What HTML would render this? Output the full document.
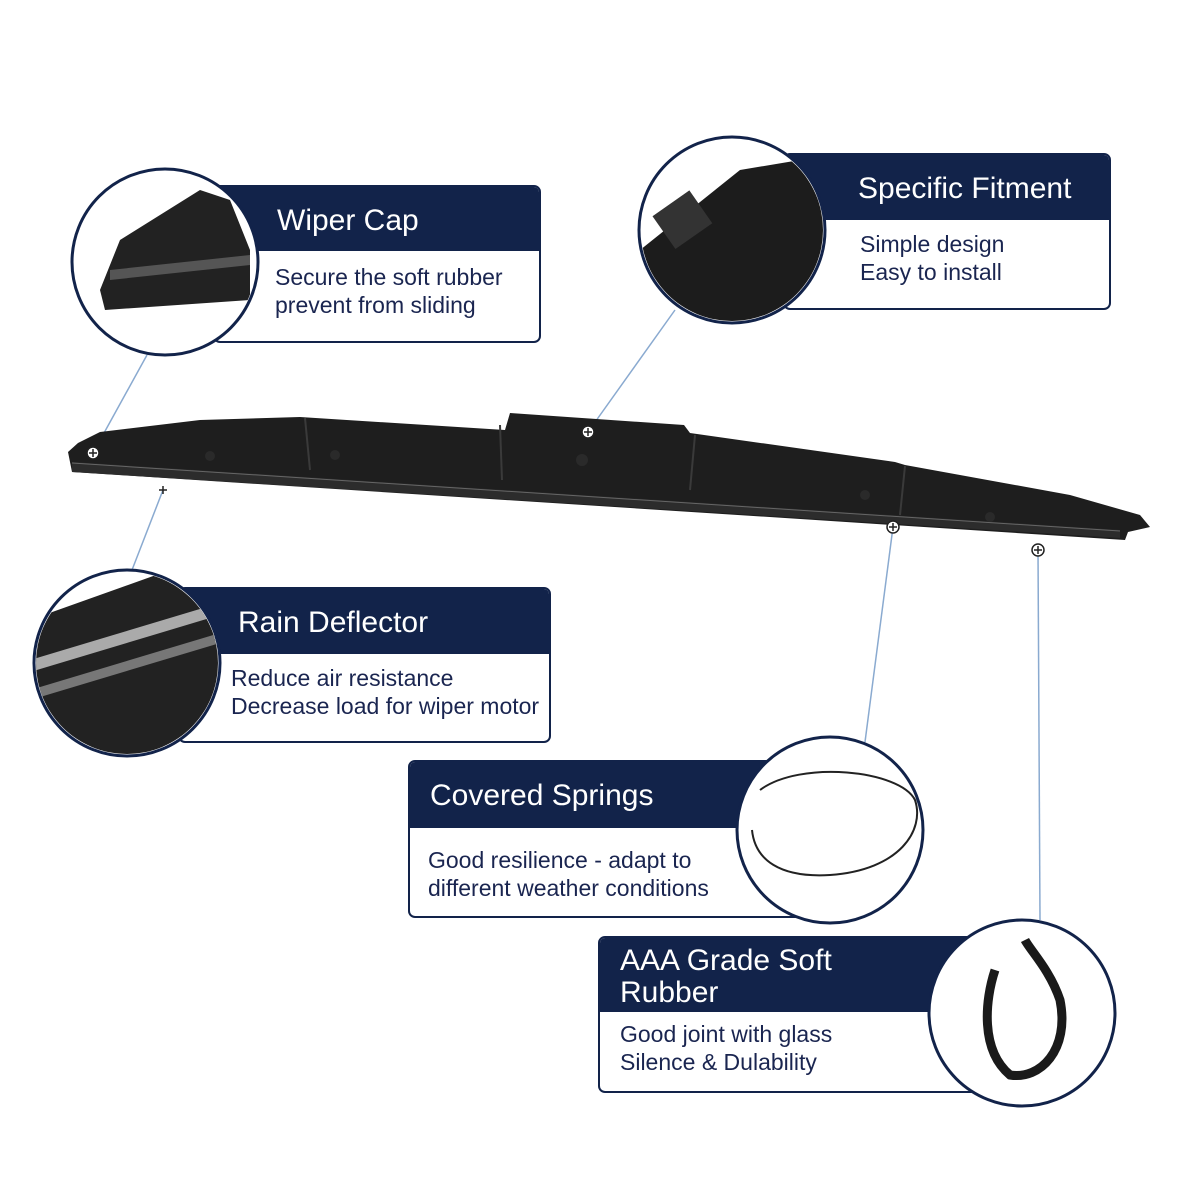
<!DOCTYPE html>
<html><head><meta charset="utf-8"><style>
html,body{margin:0;padding:0;background:#fff;}
body{width:1200px;height:1200px;position:relative;overflow:hidden;font-family:"Liberation Sans",sans-serif;}
.box{position:absolute;border:2px solid #12234a;border-radius:7px;background:#fff;overflow:hidden;box-sizing:border-box;}
.hd{background:#12234a;color:#fff;font-size:30px;line-height:1.05;}
.bd{color:#1a2550;font-size:23px;line-height:28px;}
svg{position:absolute;left:0;top:0;}
</style></head><body>
<div class="box" style="left:213px;top:185px;width:328px;height:158px;">
 <div class="hd" style="height:64px;padding:18px 0 0 62px;box-sizing:border-box;">Wiper Cap</div>
 <div class="bd" style="padding:12px 0 0 60px;">Secure the soft rubber<br>prevent from sliding</div></div>
<div class="box" style="left:783px;top:153px;width:328px;height:157px;">
 <div class="hd" style="height:65px;padding:18px 0 0 73px;box-sizing:border-box;">Specific Fitment</div>
 <div class="bd" style="padding:10px 0 0 75px;">Simple design<br>Easy to install</div></div>
<div class="box" style="left:178px;top:587px;width:373px;height:156px;">
 <div class="hd" style="height:65px;padding:18px 0 0 58px;box-sizing:border-box;">Rain Deflector</div>
 <div class="bd" style="padding:10px 0 0 51px;">Reduce air resistance<br>Decrease load for wiper motor</div></div>
<div class="box" style="left:408px;top:760px;width:400px;height:158px;">
 <div class="hd" style="height:66px;padding:18px 0 0 20px;box-sizing:border-box;">Covered Springs</div>
 <div class="bd" style="padding:18px 0 0 18px;">Good resilience - adapt to<br>different weather conditions</div></div>
<div class="box" style="left:598px;top:936px;width:405px;height:157px;">
 <div class="hd" style="height:74px;padding:7px 0 0 20px;box-sizing:border-box;">AAA Grade Soft<br>Rubber</div>
 <div class="bd" style="padding:8px 0 0 20px;">Good joint with glass<br>Silence &amp; Dulability</div></div>
<svg width="1200" height="1200" viewBox="0 0 1200 1200">
 <g stroke="#8aaad0" stroke-width="1.5">
  <line x1="93" y1="453" x2="147" y2="355"/>
  <line x1="588" y1="432" x2="675" y2="310"/>
  <line x1="163" y1="490" x2="132" y2="570"/>
  <line x1="893" y1="527" x2="865" y2="742"/>
  <line x1="1038" y1="550" x2="1040" y2="920"/>
 </g>
 <polygon points="68,452 72,472 1125,540 1128,532 1150,527 1140,515 1070,495 905,465 895,462 690,433 684,425 510,413 505,430 300,417 200,420 100,432 78,443" fill="#1e1e1e"/>
 <polygon points="72,462 1120,530 1120,538 72,472" fill="#2c2c2c"/>
 <line x1="72" y1="463" x2="1120" y2="531" stroke="#666" stroke-width="1"/>
 <g stroke="#3a3a3a" stroke-width="2"><line x1="305" y1="418" x2="310" y2="470"/><line x1="500" y1="425" x2="502" y2="480"/><line x1="695" y1="435" x2="690" y2="490"/><line x1="905" y1="466" x2="900" y2="515"/></g>
 <g fill="#2a2a2a"><circle cx="210" cy="456" r="5"/><circle cx="335" cy="455" r="5"/><circle cx="582" cy="460" r="6"/><circle cx="865" cy="495" r="5"/><circle cx="990" cy="517" r="5"/></g>
 <g fill="#fff" stroke="#222" stroke-width="1.5">
  <circle cx="93" cy="453" r="6"/><circle cx="588" cy="432" r="6"/><circle cx="893" cy="527" r="6"/><circle cx="1038" cy="550" r="6"/>
 </g>
 <g stroke="#222" stroke-width="1.5"><path d="M89 453h8M93 449v8M584 432h8M588 428v8M889 527h8M893 523v8M1034 550h8M1038 546v8M159 490h8M163 486v8"/></g>
 <g stroke="#12234a" stroke-width="3" fill="#fff">
  <circle cx="165" cy="262" r="93"/><circle cx="732" cy="230" r="93"/><circle cx="127" cy="663" r="93"/><circle cx="830" cy="830" r="93"/><circle cx="1022" cy="1013" r="93"/>
 </g>
 <defs>
  <clipPath id="c1"><circle cx="165" cy="262" r="91"/></clipPath>
  <clipPath id="c2"><circle cx="732" cy="230" r="91"/></clipPath>
  <clipPath id="c3"><circle cx="127" cy="663" r="91"/></clipPath>
 </defs>
 <g clip-path="url(#c1)"><polygon points="100,290 120,240 200,190 230,200 250,250 250,300 105,310" fill="#222"/><polygon points="110,270 250,255 250,265 110,280" fill="#555"/></g>
 <g clip-path="url(#c2)"><polygon points="640,250 740,170 800,160 830,200 830,330 640,330" fill="#1c1c1c"/><rect x="660" y="200" width="45" height="40" fill="#333" transform="rotate(-35 682 220)"/></g>
 <g clip-path="url(#c3)"><polygon points="30,620 170,570 230,570 230,760 30,760" fill="#222"/><polygon points="30,660 230,600 230,612 30,672" fill="#aaa"/><polygon points="30,690 230,630 230,640 30,700" fill="#777"/></g>
 <path d="M760 790 C800 760 900 770 915 800 C925 830 900 870 830 875 C780 878 755 860 752 830" fill="none" stroke="#222" stroke-width="2"/>
 <path d="M995 970 C985 1000 980 1050 1010 1075 C1040 1080 1070 1050 1060 1000 C1050 970 1030 950 1025 940" fill="none" stroke="#1a1a1a" stroke-width="9"/>
</svg>
</body></html>
